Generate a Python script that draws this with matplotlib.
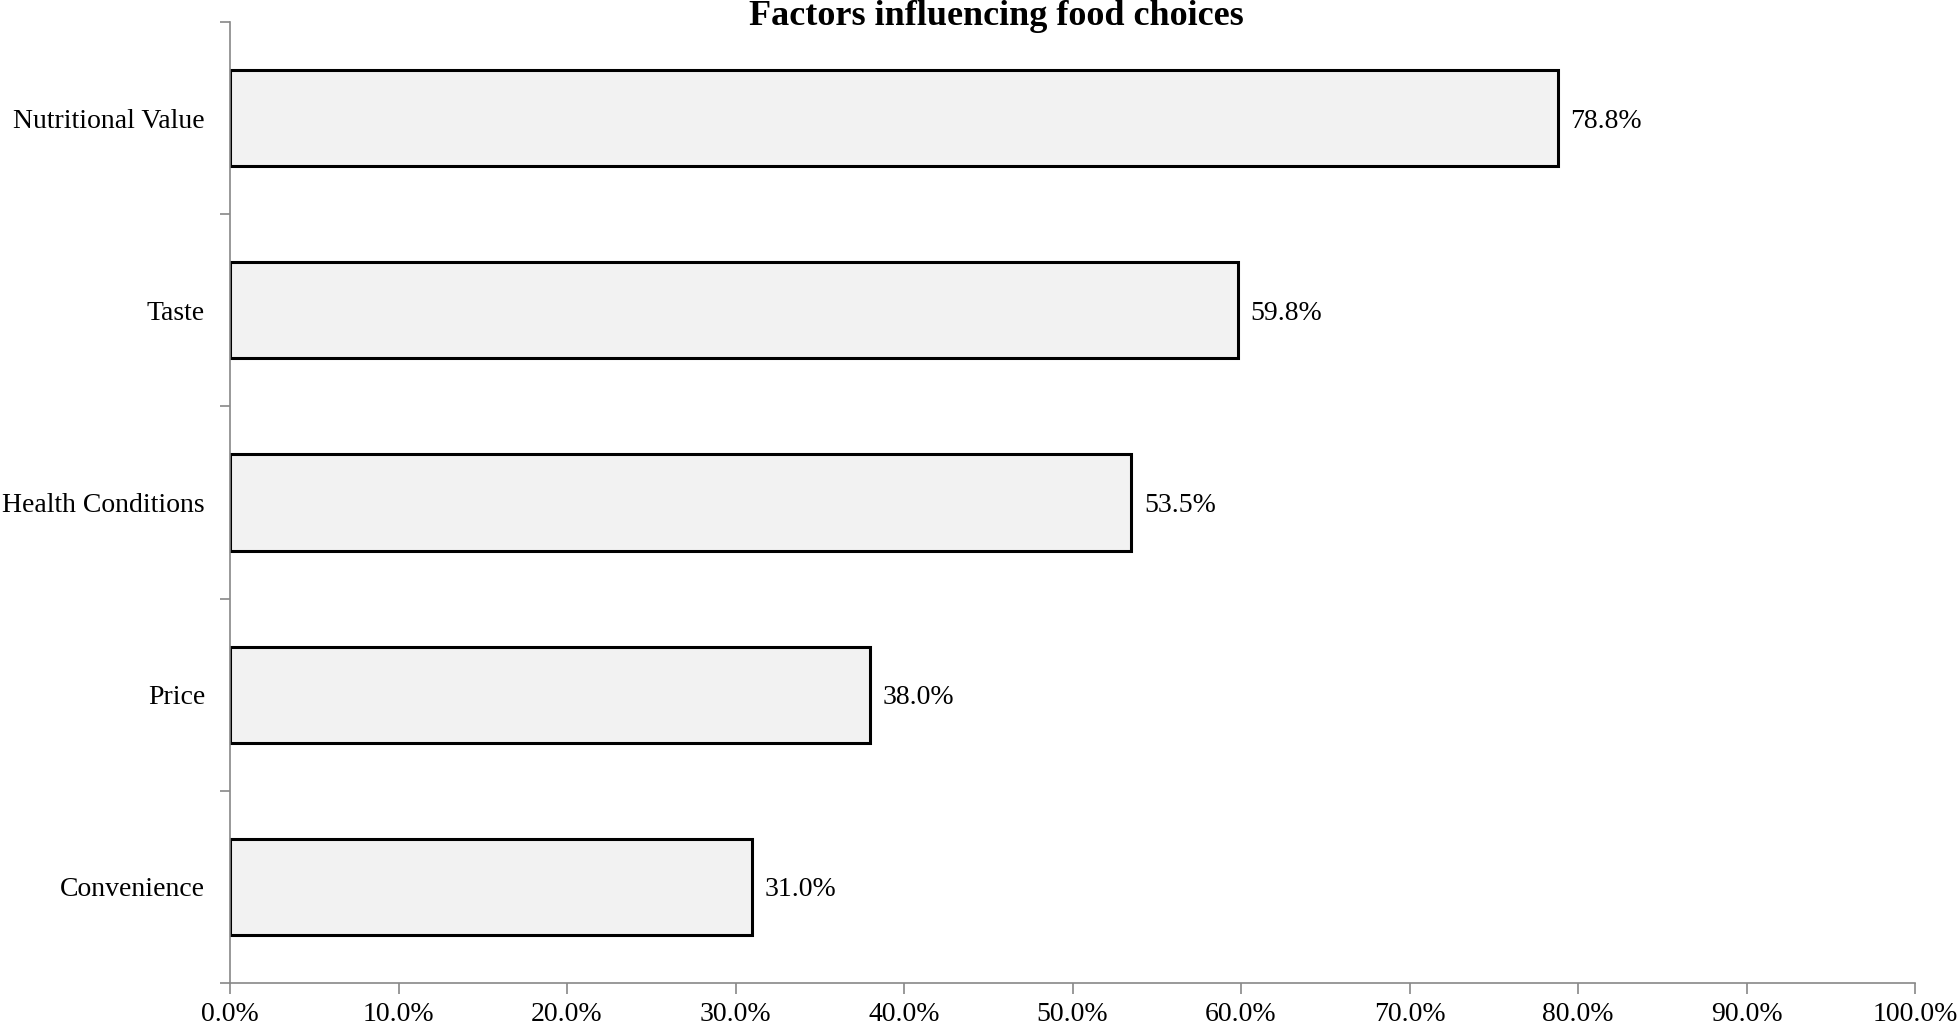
import matplotlib.pyplot as plt
from matplotlib.ticker import FixedLocator, NullFormatter

plt.rcParams['font.family'] = ['Liberation Serif', 'DejaVu Serif']

# data, top to bottom as in the chart
factors = ['Nutritional Value', 'Taste', 'Health Conditions', 'Price', 'Convenience']
shares = [78.8, 59.8, 53.5, 38.0, 31.0]
x_ticks = [0, 10, 20, 30, 40, 50, 60, 70, 80, 90, 100]
title = 'Factors influencing food choices'

W, H = 1959, 1032
fig = plt.figure(figsize=(W / 100, H / 100), dpi=100)
ax = fig.add_axes([230 / W, 1 - 983 / H, (1915 - 230) / W, (983 - 22) / H])

pos = list(range(len(factors)))[::-1]
ax.barh(pos, shares, height=0.5, color='#f2f2f2', edgecolor='black', linewidth=2.2)

for y, v in zip(pos, shares):
    ax.text(v + 0.75, y, f'{v:.1f}%', va='center_baseline', ha='left', fontsize=20)

ax.set_xlim(0, 100)
ax.set_ylim(-0.5, len(factors) - 0.5)
ax.set_xticks(x_ticks)
ax.set_xticklabels([f'{t:.1f}%' for t in x_ticks], fontsize=20)

# category labels centred, tick marks on the category boundaries
ax.set_yticks(pos)
ax.set_yticklabels(factors, fontsize=20)
ax.yaxis.set_minor_locator(FixedLocator([p - 0.5 for p in range(len(factors) + 1)]))
ax.yaxis.set_minor_formatter(NullFormatter())
ax.tick_params(axis='y', which='major', length=0, pad=18)
ax.tick_params(axis='y', which='minor', length=7, color='#888888', width=1.2)
ax.tick_params(axis='x', length=8, color='#888888', width=1.2, pad=6)

for side in ['top', 'right']:
    ax.spines[side].set_visible(False)
for side in ['left', 'bottom']:
    ax.spines[side].set_color('#888888')
    ax.spines[side].set_linewidth(1.2)

fig.text(996 / W, 1 - 25 / H, title, ha='center', va='baseline',
         fontsize=26, fontweight='bold')

fig.savefig('out.png', dpi=100)
